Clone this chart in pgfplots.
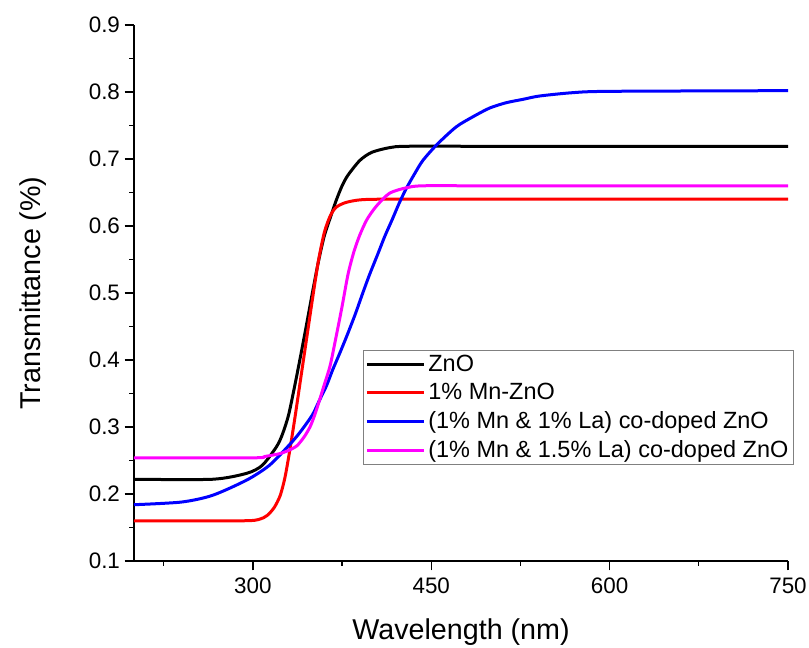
\documentclass[border=0pt]{standalone}
\usepackage{fontspec}
\setmainfont{Liberation Sans}
\usepackage{pgfplots}
\pgfplotsset{compat=1.18}
\definecolor{mag}{RGB}{255,0,255}
\definecolor{red0}{RGB}{255,0,0}
\definecolor{blue0}{RGB}{0,0,255}

\begin{document}
\begin{tikzpicture}
\path[use as bounding box] (-100.5pt,-65.25pt) rectangle (506.25pt,420.75pt);
\begin{axis}[
  scale only axis, width=490.5pt, height=402pt,
  xmin=200, xmax=750, ymin=0.1, ymax=0.9,
  axis x line*=bottom, axis y line*=left,
  axis line style={line width=1.1pt},
  xtick={300,450,600,750}, minor xtick={225,375,525,675},
  ytick={0.1,0.2,...,0.9}, minor ytick={0.15,0.25,...,0.85},
  tick align=outside, major tick length=7pt, minor tick length=3.5pt,
  every tick/.style={line width=1pt, black},
  yticklabel style={/pgf/number format/fixed,/pgf/number format/precision=1,/pgf/number format/fixed zerofill},
  /pgf/number format/assume math mode=true,
  tick label style={font=\fontsize{16.8}{19}\selectfont},
  xticklabel style={yshift=-2pt},
  xlabel={Wavelength (nm)}, ylabel={Transmittance (\%)},
  label style={font=\fontsize{21.5}{24}\selectfont},
  xlabel style={at={(axis description cs:0.5,-0.132)}, anchor=center},
  ylabel style={at={(axis description cs:-0.155,0.5)}, anchor=center},
  legend cell align=left,
  legend style={at={(0.35,0.394)}, anchor=north west, draw=gray, line width=0.7pt,
    font=\fontsize{17.6}{21}\selectfont, inner sep=1.5pt, row sep=3.5pt},
  legend image code/.code={\draw[#1, line width=2.25pt] (0pt,0pt) -- (43pt,0pt);},
  every axis plot/.append style={line width=2.25pt, smooth, tension=0.45},
]
\addplot[black] coordinates {
(200,0.222) (266,0.222) (295,0.231) (308,0.243) (320,0.271) (325,0.290) (330,0.318)
(335,0.360) (340,0.405) (345,0.452) (350,0.500) (355,0.546) (360,0.585) (365,0.612)
(370,0.638) (375,0.660) (380,0.676) (390,0.698) (400,0.710) (415,0.717) (430,0.719)
(500,0.719) (750,0.719)};
\addlegendentry{ZnO}
\addplot[red0] coordinates {
(200,0.160) (290,0.160) (305,0.162) (312,0.168) (318,0.180) (323,0.198) (327,0.225)
(331,0.265) (335,0.310) (340,0.370) (345,0.430) (350,0.490) (355,0.547) (360,0.590)
(365,0.615) (370,0.628) (378,0.635) (390,0.639) (410,0.640) (500,0.640) (750,0.640)};
\addlegendentry{1\% Mn-ZnO}
\addplot[blue0] coordinates {
(200,0.184) (240,0.188) (266,0.198) (295,0.221) (314,0.243) (331,0.274) (340,0.293)
(350,0.318) (356,0.340) (362,0.362) (367,0.385) (373,0.410) (379,0.436) (386,0.468)
(392,0.498) (398,0.527) (405,0.558) (411,0.585) (417,0.609) (423,0.634) (429,0.656)
(436,0.678) (443,0.698) (455,0.722) (471,0.748) (485,0.763) (499,0.776) (513,0.784)
(527,0.789) (541,0.794) (569,0.799) (600,0.801) (750,0.802)};
\addlegendentry{(1\% Mn \& 1\% La) co-doped ZnO}
\addplot[mag] coordinates {
(200,0.254) (300,0.254) (310,0.256) (322,0.260) (330,0.265) (337,0.272) (343,0.285)
(348,0.300) (352,0.318) (356,0.340) (360,0.363) (365,0.392) (370,0.435) (375,0.480)
(380,0.528) (385,0.562) (390,0.587) (396,0.610) (404,0.630) (415,0.649) (429,0.657)
(443,0.660) (500,0.660) (750,0.660)};
\addlegendentry{(1\% Mn \& 1.5\% La) co-doped ZnO}
\end{axis}
\end{tikzpicture}
\end{document}
